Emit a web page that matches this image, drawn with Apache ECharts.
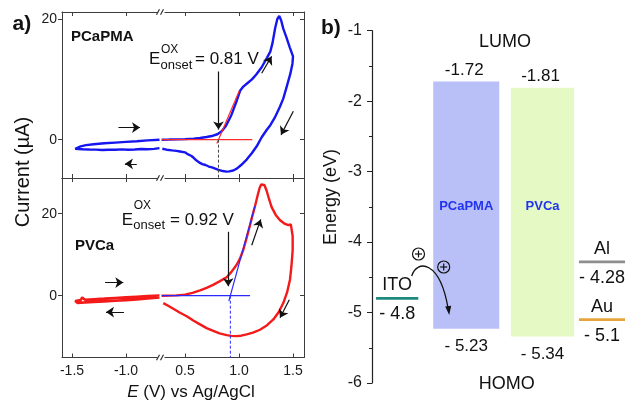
<!DOCTYPE html>
<html>
<head>
<meta charset="utf-8">
<script src="https://cdn.jsdelivr.net/npm/echarts@6/dist/echarts.min.js"></script>
<style>
  html, body { margin: 0; padding: 0; background: #fff; }
  #chart { width: 625px; height: 403px; }
</style>
</head>
<body>
<div id="chart"></div>
<script>
// ---------- cyclic voltammetry data (E in V vs Ag/AgCl, I in µA) ----------
const scanTicksLow = [-1.5, -1.0];
const scanTicksHigh = [0.5, 1.0, 1.5];
const currentTicks = [0, 20];

// PCaPMA, negative-potential window (closed loop)
const pcapmaLowScan = [
  [-0.69, -1.40], [-0.74, -1.52], [-0.80, -1.58], [-0.86, -1.55], [-0.92, -1.62],
  [-0.98, -1.66], [-1.04, -1.60], [-1.10, -1.68], [-1.16, -1.66], [-1.22, -1.70],
  [-1.28, -1.64], [-1.34, -1.62], [-1.40, -1.58], [-1.44, -1.55], [-1.47, -1.50],
  [-1.455, -1.30], [-1.42, -1.10], [-1.37, -0.90], [-1.30, -0.76], [-1.20, -0.60],
  [-1.10, -0.48], [-1.00, -0.36], [-0.90, -0.25], [-0.80, -0.12], [-0.69, 0.00]
];
// PCaPMA, oxidation window (forward sweep then reverse sweep)
const pcapmaHighScan = [
  [0.284, 0.00], [0.35, 0.02], [0.42, 0.05], [0.50, 0.10], [0.58, 0.18], [0.64, 0.28],
  [0.70, 0.45], [0.76, 0.66], [0.80, 0.90], [0.84, 1.40], [0.88, 2.30], [0.93, 4.10],
  [0.98, 6.50], [1.01, 8.10], [1.04, 8.80], [1.08, 9.40], [1.12, 10.0], [1.16, 10.8],
  [1.21, 12.0], [1.26, 13.6], [1.29, 14.6], [1.31, 16.0], [1.335, 18.5], [1.355, 20.0],
  [1.373, 20.5], [1.39, 19.8], [1.41, 18.4], [1.44, 16.9], [1.47, 15.3], [1.50, 13.8],
  [1.495, 12.6], [1.475, 10.9], [1.442, 8.8], [1.41, 6.8], [1.38, 5.5], [1.33, 3.6],
  [1.29, 2.4], [1.256, 1.6], [1.21, 0.4], [1.164, -1.1], [1.12, -2.2], [1.071, -3.3],
  [1.02, -4.2], [0.98, -4.8], [0.947, -5.1], [0.91, -5.25], [0.886, -5.3], [0.85, -5.2],
  [0.81, -5.0], [0.78, -4.8], [0.75, -4.6], [0.72, -4.45], [0.69, -4.2], [0.66, -4.05],
  [0.639, -3.85], [0.61, -3.5], [0.58, -3.0], [0.56, -2.7], [0.546, -2.5], [0.52, -2.35],
  [0.50, -2.1], [0.454, -1.95], [0.42, -1.85], [0.38, -1.78], [0.33, -1.66], [0.29, -1.50]
];
const pcapmaOnset = 0.81;
const pcapmaTangentSlope = 42;      // µA per V
const pcapmaTangentSpan = [0.795, 1.003];

// PVCa, negative-potential window
const pvcaLowScan = [
  [-0.69, 0.05], [-0.80, -0.10], [-0.90, -0.25], [-1.00, -0.40], [-1.10, -0.55],
  [-1.20, -0.72], [-1.30, -0.88], [-1.38, -1.02], [-1.405, -0.45], [-1.42, -1.08],
  [-1.47, -1.30], [-1.48, -1.60], [-1.45, -1.75], [-1.38, -1.62], [-1.30, -1.50],
  [-1.20, -1.38], [-1.10, -1.22], [-1.00, -1.08], [-0.90, -0.90], [-0.80, -0.70],
  [-0.69, -0.45]
];
// PVCa, oxidation window
const pvcaHighScan = [
  [0.284, 0.00], [0.35, 0.02], [0.42, 0.08], [0.50, 0.25], [0.57, 0.70], [0.64, 1.30],
  [0.70, 1.90], [0.76, 2.65], [0.82, 3.50], [0.886, 4.50], [0.93, 5.80], [0.98, 7.60],
  [1.01, 9.10], [1.04, 11.2], [1.07, 14.0], [1.10, 17.0], [1.125, 19.6], [1.148, 21.8],
  [1.17, 24.2], [1.19, 26.2], [1.205, 27.1], [1.22, 27.4], [1.235, 27.0], [1.256, 25.6],
  [1.28, 23.4], [1.302, 21.6], [1.34, 19.7], [1.38, 18.4], [1.42, 17.6], [1.457, 17.2],
  [1.48, 17.4], [1.497, 17.7],
  [1.497, 14.5], [1.497, 11.1], [1.485, 7.0], [1.472, 3.9], [1.445, 0.8], [1.41, -1.8],
  [1.37, -3.9], [1.318, -5.8], [1.26, -7.2], [1.194, -8.3], [1.13, -9.0], [1.071, -9.45],
  [1.02, -9.75], [0.979, -9.85], [0.93, -9.8], [0.886, -9.6], [0.82, -9.2], [0.762, -8.6],
  [0.70, -7.9], [0.639, -7.0], [0.58, -6.1], [0.516, -5.0], [0.45, -4.1], [0.392, -3.2],
  [0.34, -2.4], [0.299, -1.8]
];
const pvcaOnset = 0.92;
const pvcaTangentSlope = 96;        // µA per V
const pvcaTangentSpan = [0.906, 1.148];

// scan-direction arrows, [[from], [to]] in axis units
const pcapmaLowArrows = [[[-1.07, 2.0], [-0.87, 2.0]], [[-0.90, -4.0], [-1.01, -4.0]]];
const pcapmaHighArrows = [[[0.81, 11.3], [0.81, 1.7]], [[1.21, 11.0], [1.302, 13.8]], [[1.503, 4.7], [1.389, 0.8]]];
const pvcaLowArrows = [[[-1.194, 3.2], [-1.025, 3.2]], [[-1.019, -4.0], [-1.185, -4.0]]];
const pvcaHighArrows = [[[0.90, 15.6], [0.90, 2.3]], [[1.118, 12.3], [1.201, 18.6]], [[1.466, -1.0], [1.38, -5.4]]];

// ---------- energy diagram data (eV) ----------
const materials = ['PCaPMA', 'PVCa'];
const lumoLevels = [-1.72, -1.81];
const homoLevels = [-5.23, -5.34];
const electrodes = ['ITO', 'Al', 'Au'];
const workFunctions = [-4.8, -4.28, -5.1];

// ---------- layout & styles ----------
const FONT = '"Liberation Sans", Arial, Helvetica, sans-serif';
const AXIS_COLOR = '#3c3c3c';
const lowRange = [-1.5926, -0.676];
const highRange = [0.2778, 1.6019];
const topCurrentRange = [-6.35, 21.16];
const bottomCurrentRange = [-15.07, 28.7];
const frame = { left: 62, brk: 161, right: 304, top: 12, split: 178, bottom: 357.5 };

// horizontal extents of the diagram's levels, in x-axis units (0..100)
const barSpans = [[24.2, 50.3], [54.9, 79.9]];
const barColors = ['#b9c0f8', '#e4f9c4'];
const electrodeSpans = [[1.6, 18.3], [81.8, 100], [81.8, 100]];
const electrodeColors = ['#1e8a7e', '#8e8e8e', '#e6a43a'];
const materialLabelLevel = -3.5;

const chart = echarts.init(document.getElementById('chart'), null, { renderer: 'canvas' });

function scanAxis(gridIndex, range, ticks, position, showLabels) {
  return {
    type: 'value', gridIndex, position, min: range[0], max: range[1],
    axisLine: { show: true, onZero: false, lineStyle: { color: AXIS_COLOR, width: 1 } },
    axisTick: { show: true, inside: true, length: 4, customValues: ticks, lineStyle: { color: AXIS_COLOR } },
    axisLabel: {
      show: showLabels, customValues: ticks, formatter: v => v.toFixed(1),
      fontSize: 14, color: '#1a1a1a', fontFamily: FONT, margin: 7
    },
    splitLine: { show: false }
  };
}

function currentAxis(gridIndex, range, position) {
  const left = position === 'left';
  return {
    type: 'value', gridIndex, position, min: range[0], max: range[1],
    axisLine: { show: true, onZero: false, lineStyle: { color: AXIS_COLOR, width: 1 } },
    axisTick: { show: true, inside: !left, length: 4, customValues: currentTicks, lineStyle: { color: AXIS_COLOR } },
    axisLabel: {
      show: left, customValues: currentTicks, fontSize: 14, color: '#1a1a1a',
      fontFamily: FONT, margin: 5
    },
    splitLine: { show: false }
  };
}

function curve(name, data, xAxisIndex, yAxisIndex, color, width) {
  return {
    name, type: 'line', data, xAxisIndex, yAxisIndex,
    showSymbol: false, symbol: 'none', smooth: false, silent: true,
    lineStyle: { color, width }, z: 3
  };
}

function segment(name, pts, xAxisIndex, yAxisIndex, color, width, dashed) {
  return {
    name, type: 'line', data: pts, xAxisIndex, yAxisIndex,
    showSymbol: false, symbol: 'none', silent: true,
    lineStyle: { color, width, type: dashed ? [3, 2] : 'solid' }, z: 4
  };
}

function arrows(name, list, xAxisIndex, yAxisIndex) {
  return {
    name, type: 'lines', coordinateSystem: 'cartesian2d', xAxisIndex, yAxisIndex,
    data: list.map(c => ({ coords: c })),
    symbol: ['none', 'arrow'], symbolSize: 8, silent: true,
    lineStyle: { color: '#111', width: 1.2, opacity: 1 }, z: 5
  };
}

function tangentPoints(onset, slope, span) {
  return span.map(e => [e, slope * (e - onset)]);
}

// ---------- panel b renderers ----------
function renderOrbital(params, api) {
  const i = api.value(0);
  const span = barSpans[i];
  const pTop = api.coord([span[0], api.value(1)]);
  const pBot = api.coord([span[1], api.value(2)]);
  const cx = (pTop[0] + pBot[0]) / 2;
  const nameY = api.coord([0, materialLabelLevel])[1];
  return {
    type: 'group',
    children: [
      { type: 'rect', shape: { x: pTop[0], y: pTop[1], width: pBot[0] - pTop[0], height: pBot[1] - pTop[1] },
        style: { fill: barColors[i] } },
      { type: 'text', x: cx - 2, y: pTop[1] - 3,
        style: { text: api.value(1).toFixed(2), font: '17px ' + FONT, fill: '#111', align: 'center', verticalAlign: 'bottom' } },
      { type: 'text', x: cx, y: pBot[1] + 9,
        style: { text: '- ' + Math.abs(api.value(2)).toFixed(2), font: '17px ' + FONT, fill: '#111', align: 'center', verticalAlign: 'top' } },
      { type: 'text', x: cx, y: nameY,
        style: { text: materials[i], font: 'bold 13px ' + FONT, fill: '#2233ee', align: 'center', verticalAlign: 'middle' } }
    ]
  };
}

function renderElectrode(params, api) {
  const i = api.value(0);
  const span = electrodeSpans[i];
  const a = api.coord([span[0], api.value(1)]);
  const b = api.coord([span[1], api.value(1)]);
  const cx = (a[0] + b[0]) / 2;
  return {
    type: 'group',
    children: [
      { type: 'line', shape: { x1: a[0], y1: a[1], x2: b[0], y2: b[1] },
        style: { stroke: electrodeColors[i], lineWidth: 2.8 } },
      { type: 'text', x: cx, y: a[1] - 4,
        style: { text: electrodes[i], font: '18px ' + FONT, fill: '#111', align: 'center', verticalAlign: 'bottom' } },
      { type: 'text', x: cx, y: a[1] + 7,
        style: { text: '- ' + Math.abs(api.value(1)), font: '18px ' + FONT, fill: '#111', align: 'center', verticalAlign: 'top' } }
    ]
  };
}

// ---------- free text & decorations (drawn above the series) ----------
const TOP_Z = 100;

function txt(x, y, text, font, extra) {
  return { type: 'text', x, y, z: TOP_Z, silent: true,
    style: Object.assign({ text, font: font + ' ' + FONT, fill: '#111', align: 'left', verticalAlign: 'middle' }, extra || {}) };
}

function onsetLabel(left, mid, supMid, subMid, eqLeft, value) {
  return [
    txt(left, mid, 'E', '17px'),
    txt(left + 12, supMid, 'OX', '12px'),
    txt(left + 11.5, subMid, 'onset', '13px'),
    txt(eqLeft, mid, '= ' + value.toFixed(2) + ' V', '17px')
  ];
}

function breakMarks(x, y) {
  return {
    type: 'group', silent: true, z: TOP_Z,
    children: [
      { type: 'rect', z: TOP_Z, shape: { x: x - 3.5, y: y - 2, width: 7, height: 4 }, style: { fill: '#fff' } },
      { type: 'line', z: TOP_Z, shape: { x1: x - 4.5, y1: y + 2.8, x2: x - 1.5, y2: y - 2.8 }, style: { stroke: '#333', lineWidth: 1.2 } },
      { type: 'line', z: TOP_Z, shape: { x1: x - 0.5, y1: y + 2.8, x2: x + 2.5, y2: y - 2.8 }, style: { stroke: '#333', lineWidth: 1.2 } }
    ]
  };
}

function circledPlus(cx, cy) {
  return {
    type: 'group', silent: true, z: TOP_Z,
    children: [
      { type: 'circle', z: TOP_Z, shape: { cx, cy, r: 6 }, style: { stroke: '#111', fill: 'none', lineWidth: 1.2 } },
      { type: 'line', z: TOP_Z, shape: { x1: cx - 3.5, y1: cy, x2: cx + 3.5, y2: cy }, style: { stroke: '#111', lineWidth: 1.2 } },
      { type: 'line', z: TOP_Z, shape: { x1: cx, y1: cy - 3.5, x2: cx, y2: cy + 3.5 }, style: { stroke: '#111', lineWidth: 1.2 } }
    ]
  };
}

const potentialTitle = txt(191, 392, '{i|E} (V) vs Ag/AgCl', '17px', { align: 'center' });
potentialTitle.style.rich = { i: { font: 'italic 17px ' + FONT, fill: '#111' } };

const currentTitle = txt(23, 172, 'Current (µA)', '20px', { align: 'center' });
currentTitle.rotation = Math.PI / 2;

const energyTitle = txt(331, 197, 'Energy (eV)', '18px', { align: 'center' });
energyTitle.rotation = Math.PI / 2;

const graphics = [
  txt(12.5, 24, 'a)', 'bold 21px'),
  txt(321, 28.5, 'b)', 'bold 21px'),
  currentTitle,
  potentialTitle,
  energyTitle,
  txt(71, 37, 'PCaPMA', 'bold 15px'),
  txt(75, 246, 'PVCa', 'bold 15px'),
  ...onsetLabel(149, 59, 49.5, 65, 195, pcapmaOnset),
  ...onsetLabel(121.7, 220.8, 205.8, 225.5, 170, pvcaOnset),
  txt(505, 42.5, 'LUMO', '18px', { align: 'center' }),
  txt(506.7, 384, 'HOMO', '18px', { align: 'center' }),
  breakMarks(frame.brk, frame.top),
  breakMarks(frame.brk, frame.split),
  breakMarks(frame.brk, frame.bottom),
  circledPlus(418.5, 254),
  circledPlus(443.7, 267),
  { type: 'bezierCurve', silent: true, z: TOP_Z,
    shape: { x1: 411.7, y1: 276, cpx1: 417, cpy1: 259, cpx2: 440, cpy2: 260, x2: 448.2, y2: 309 },
    style: { stroke: '#111', lineWidth: 1.3, fill: 'none' } },
  { type: 'polygon', silent: true, z: TOP_Z,
    shape: { points: [[449.2, 315], [445.2, 306.6], [451.2, 305.8]] },
    style: { fill: '#111' } }
];

const option = {
  animation: false,
  backgroundColor: '#fff',
  grid: [
    { left: frame.left, top: frame.top, width: frame.brk - frame.left, height: frame.split - frame.top },
    { left: frame.brk, top: frame.top, width: frame.right - frame.brk, height: frame.split - frame.top },
    { left: frame.left, top: frame.split, width: frame.brk - frame.left, height: frame.bottom - frame.split },
    { left: frame.brk, top: frame.split, width: frame.right - frame.brk, height: frame.bottom - frame.split },
    { left: 372, top: 30.7, width: 253, height: 352.3 }
  ],
  xAxis: [
    scanAxis(0, lowRange, scanTicksLow, 'bottom', false),
    scanAxis(0, lowRange, scanTicksLow, 'top', false),
    scanAxis(1, highRange, scanTicksHigh, 'bottom', false),
    scanAxis(1, highRange, scanTicksHigh, 'top', false),
    scanAxis(2, lowRange, scanTicksLow, 'bottom', true),
    scanAxis(2, lowRange, scanTicksLow, 'top', false),
    scanAxis(3, highRange, scanTicksHigh, 'bottom', true),
    scanAxis(3, highRange, scanTicksHigh, 'top', false),
    { type: 'value', gridIndex: 4, min: 0, max: 100, show: false }
  ],
  yAxis: [
    currentAxis(0, topCurrentRange, 'left'),
    currentAxis(1, topCurrentRange, 'right'),
    currentAxis(2, bottomCurrentRange, 'left'),
    currentAxis(3, bottomCurrentRange, 'right'),
    {
      type: 'value', gridIndex: 4, min: -6, max: -1, interval: 1, position: 'left',
      axisLine: { show: true, onZero: false, lineStyle: { color: '#222', width: 1.2 } },
      axisTick: { show: true, inside: false, length: 5, lineStyle: { color: '#222' } },
      minorTick: { show: true, splitNumber: 2, length: 3, lineStyle: { color: '#222' } },
      axisLabel: { fontSize: 16, color: '#1a1a1a', fontFamily: FONT, margin: 10 },
      splitLine: { show: false }
    }
  ],
  series: [
    // panel a, PCaPMA
    curve('PCaPMA low', pcapmaLowScan, 0, 0, '#1616f0', 2.4),
    curve('PCaPMA high', pcapmaHighScan, 2, 1, '#1616f0', 2.4),
    segment('PCaPMA baseline', [[highRange[0] + 0.006, 0], [1.123, 0]], 2, 1, '#ff2a2a', 1.2, false),
    segment('PCaPMA tangent', tangentPoints(pcapmaOnset, pcapmaTangentSlope, pcapmaTangentSpan), 2, 1, '#ff2a2a', 1.2, false),
    segment('PCaPMA onset', [[pcapmaOnset, 0], [pcapmaOnset, topCurrentRange[0]]], 2, 1, '#444', 1, true),
    arrows('PCaPMA low arrows', pcapmaLowArrows, 0, 0),
    arrows('PCaPMA high arrows', pcapmaHighArrows, 2, 1),
    // panel a, PVCa
    curve('PVCa low', pvcaLowScan, 4, 2, '#f41a1a', 2.6),
    curve('PVCa high', pvcaHighScan, 6, 3, '#f41a1a', 2.4),
    segment('PVCa baseline', [[highRange[0] + 0.006, 0], [1.102, 0]], 6, 3, '#2a2aff', 1.2, false),
    segment('PVCa tangent', tangentPoints(pvcaOnset, pvcaTangentSlope, pvcaTangentSpan), 6, 3, '#2a2aff', 1.2, false),
    segment('PVCa onset', [[pvcaOnset, 0], [pvcaOnset, bottomCurrentRange[0]]], 6, 3, '#2a2aff', 1, true),
    arrows('PVCa low arrows', pvcaLowArrows, 4, 2),
    arrows('PVCa high arrows', pvcaHighArrows, 6, 3),
    // panel b
    {
      name: 'frontier orbitals', type: 'custom', coordinateSystem: 'cartesian2d',
      xAxisIndex: 8, yAxisIndex: 4, clip: false, silent: true, z: 2,
      data: materials.map((m, i) => [i, lumoLevels[i], homoLevels[i]]),
      encode: { x: 0, y: [1, 2] },
      renderItem: renderOrbital
    },
    {
      name: 'electrodes', type: 'custom', coordinateSystem: 'cartesian2d',
      xAxisIndex: 8, yAxisIndex: 4, clip: false, silent: true, z: 2,
      data: electrodes.map((e, i) => [i, workFunctions[i]]),
      encode: { x: 0, y: 1 },
      renderItem: renderElectrode
    }
  ],
  graphic: { elements: graphics }
};

chart.setOption(option);
</script>
</body>
</html>
